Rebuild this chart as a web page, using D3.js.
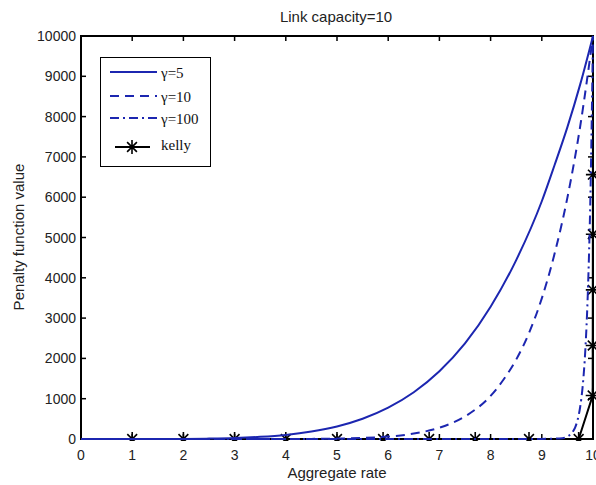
<!DOCTYPE html>
<html><head><meta charset="utf-8">
<script src="https://cdn.jsdelivr.net/npm/d3@7/dist/d3.min.js"></script>
<style>body{margin:0;background:#fff}svg{display:block}</style>
</head><body>
<script>
const titleText = "Link capacity=10";
const xLabel = "Aggregate rate";
const yLabel = "Penalty function value";
const xTicks = [0,1,2,3,4,5,6,7,8,9,10];
const yTicks = [0,1000,2000,3000,4000,5000,6000,7000,8000,9000,10000];

const g5X = [0,0.5,1,1.5,2,2.5,3,3.5,4,4.5,5,5.5,6,6.5,7,7.5,8,8.5,9,9.25,9.5,9.75,10];
const g5Y = [0,0,0,1,3,10,24,53,102,185,312,503,778,1160,1680,2370,3280,4440,5900,6800,7740,8800,10000];

const g10X = [0,1,2,3,4,4.5,5,5.5,6,6.5,7,7.5,8,8.25,8.5,8.75,9,9.25,9.5,9.75,10];
const g10Y = [0,0,0,0,1,3,10,25,60,135,280,560,1070,1470,1970,2630,3490,4600,5990,7760,10000];

const g100X = [0,2,4,6,8,9,9.4,9.5,9.6,9.65,9.7,9.75,9.8,9.85,9.9,9.95,10];
const g100Y = [0,0,0,0,0,3,20,60,170,280,480,800,1330,2210,3660,6060,10000];

const kellyX = [0,1,2,3,4,5,5.9,6.8,7.7,8.75,9.72,9.994,9.995,9.996,9.997,9.998,9.999,10];
const kellyY = [0,0,0,0,0,0,0,0,0,0,0,1080,2320,3700,5080,6560,8000,10000];
const kellyMarkX = [1,2,3,4,5,5.9,6.8,7.7,8.75,9.72,9.994,9.995,9.996,9.997,9.998];
const kellyMarkY = [0,0,0,0,0,0,0,0,0,0,1080,2320,3700,5080,6560];

const legendLabels = ["\u03b3=5","\u03b3=10","\u03b3=100","kelly"];

const W=596,H=485;
const svg=d3.select("body").append("svg").attr("width",W).attr("height",H);
const x=d3.scaleLinear().domain([0,10]).range([81,593]);
const y=d3.scaleLinear().domain([0,10000]).range([439,36]);
const blue="#1c26b0";
const font="'Liberation Sans', Arial, sans-serif";

// frame
svg.append("rect").attr("x",81).attr("y",36).attr("width",512).attr("height",403)
  .attr("fill","none").attr("stroke","#000").attr("stroke-width",2);

// ticks inward
const tl=5;
xTicks.forEach(t=>{
  svg.append("line").attr("x1",x(t)).attr("x2",x(t)).attr("y1",439).attr("y2",439-tl).attr("stroke","#000").attr("stroke-width",1.5);
  svg.append("line").attr("x1",x(t)).attr("x2",x(t)).attr("y1",36).attr("y2",36+tl).attr("stroke","#000").attr("stroke-width",1.5);
  svg.append("text").attr("x",x(t)).attr("y",460).attr("text-anchor","middle")
    .attr("font-family",font).attr("font-size",14).attr("fill","#222").text(t);
});
yTicks.forEach(t=>{
  svg.append("line").attr("x1",81).attr("x2",81+tl).attr("y1",y(t)).attr("y2",y(t)).attr("stroke","#000").attr("stroke-width",1.5);
  svg.append("line").attr("x1",593).attr("x2",593-tl).attr("y1",y(t)).attr("y2",y(t)).attr("stroke","#000").attr("stroke-width",1.5);
  svg.append("text").attr("x",76).attr("y",y(t)+5).attr("text-anchor","end")
    .attr("font-family",font).attr("font-size",14).attr("fill","#222").text(t);
});

svg.append("text").attr("x",336).attr("y",22).attr("text-anchor","middle")
  .attr("font-family",font).attr("font-size",15).attr("fill","#222").text(titleText);
svg.append("text").attr("x",337).attr("y",478).attr("text-anchor","middle")
  .attr("font-family",font).attr("font-size",15).attr("fill","#222").text(xLabel);
svg.append("text").attr("transform","translate(24,237) rotate(-90)").attr("text-anchor","middle")
  .attr("font-family",font).attr("font-size",15).attr("fill","#222").text(yLabel);

svg.append("clipPath").attr("id","c").append("rect").attr("x",80).attr("y",30).attr("width",520).attr("height",411);
const plot=svg.append("g").attr("clip-path","url(#c)");
const line=d3.line().x(d=>x(d[0])).y(d=>y(d[1]));
const smooth=d3.line().x(d=>x(d[0])).y(d=>y(d[1])).curve(d3.curveMonotoneX);

function star(gSel,cx,cy,r,color){
  const p=`M${cx-r},${cy}L${cx+r},${cy}M${cx},${cy-r}L${cx},${cy+r}M${cx-r*0.7},${cy-r*0.7}L${cx+r*0.7},${cy+r*0.7}M${cx-r*0.7},${cy+r*0.7}L${cx+r*0.7},${cy-r*0.7}`;
  gSel.append("path").attr("d",p).attr("stroke",color).attr("stroke-width",1.6).attr("fill","none");
}

// kelly
plot.append("path").datum(d3.zip(kellyX,kellyY)).attr("d",line).attr("fill","none").attr("stroke","#000").attr("stroke-width",2);
kellyMarkX.forEach((v,i)=>star(plot,x(v),y(kellyMarkY[i]),7,"#000"));

const series=[
  {X:g5X,Y:g5Y,dash:null},
  {X:g10X,Y:g10Y,dash:"9,6"},
  {X:g100X,Y:g100Y,dash:"9,4,2,4"}
];
series.forEach(s=>{
  plot.append("path").datum(d3.zip(s.X,s.Y)).attr("d",smooth).attr("fill","none")
    .attr("stroke",blue).attr("stroke-width",2).attr("stroke-dasharray",s.dash);
});

// legend
const lg=svg.append("g");
lg.append("rect").attr("x",100.5).attr("y",57.5).attr("width",110).attr("height",109).attr("fill","#fff").attr("stroke","#000").attr("stroke-width",1);
const rowsY=[72,96,118,147];
const dashes=[null,"9,6","9,4,2,4"];
legendLabels.forEach((lab,i)=>{
  const yy=rowsY[i];
  if(i<3){
    lg.append("line").attr("x1",110).attr("x2",157).attr("y1",yy).attr("y2",yy).attr("stroke",blue).attr("stroke-width",2).attr("stroke-dasharray",dashes[i]);
  } else {
    lg.append("line").attr("x1",115).attr("x2",150).attr("y1",yy).attr("y2",yy).attr("stroke","#000").attr("stroke-width",2);
    star(lg,132,yy,7,"#000");
  }
  lg.append("text").attr("x",161).attr("y",i<3?yy+6:yy+3).attr("font-family","'Liberation Serif','Times New Roman',serif")
    .attr("font-size",15).attr("fill","#111").text(lab);
});
</script>
</body></html>
